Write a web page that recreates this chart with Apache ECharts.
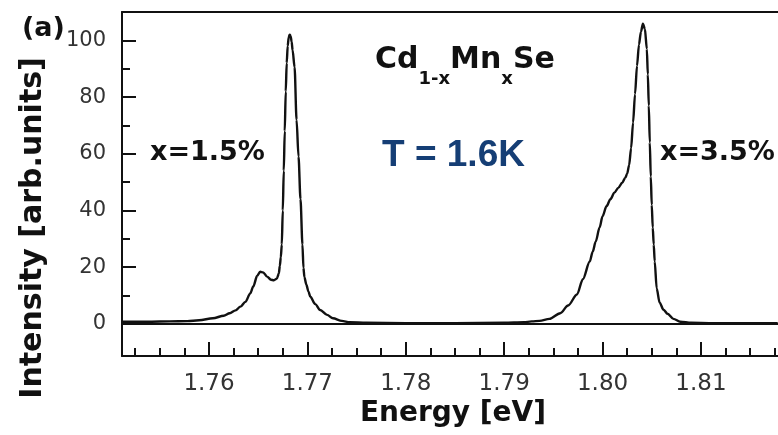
<!DOCTYPE html>
<html>
<head>
<meta charset="utf-8">
<script src="https://cdn.jsdelivr.net/npm/echarts@6/dist/echarts.min.js"></script>
<style>
  html, body { margin: 0; padding: 0; background: #ffffff; }
  #chart { width: 778px; height: 435px; }
</style>
</head>
<body>
<div id="chart"></div>
<script>
// Photoluminescence spectra of Cd(1-x)Mn(x)Se at T = 1.6 K
// Photon energy (eV) and intensity (arb. units) of the measured trace
const energy = [
  1.7512, 1.7540, 1.7560, 1.7578, 1.7590, 1.7604, 1.7615, 1.7621, 1.7627, 1.7632,
  1.7637, 1.7642, 1.7645, 1.7649, 1.7652, 1.7655, 1.7659, 1.7663, 1.7666, 1.7669,
  1.7671, 1.7672, 1.7673, 1.7674, 1.7675, 1.7676, 1.7677, 1.7678, 1.7679, 1.7680,
  1.7681, 1.7682, 1.7683, 1.7684, 1.7685, 1.7687, 1.7689, 1.7691, 1.7693, 1.7695,
  1.7696, 1.7697, 1.7699, 1.7701, 1.7703, 1.7708, 1.7713, 1.7720, 1.7726, 1.7735,
  1.7743, 1.7760, 1.7800, 1.7850, 1.7900, 1.7920, 1.7928, 1.7936, 1.7946, 1.7957,
  1.7965, 1.7974, 1.7980, 1.7987, 1.7990, 1.7993, 1.7997, 1.8000, 1.8004, 1.8008,
  1.8012, 1.8016, 1.8020, 1.8023, 1.8025, 1.8027, 1.8029, 1.8031, 1.8033, 1.8035,
  1.8037, 1.8039, 1.8041, 1.8043, 1.8045, 1.8046, 1.8047, 1.8048, 1.8049, 1.8050,
  1.8051, 1.8052, 1.8053, 1.8055, 1.8058, 1.8062, 1.8066, 1.8072, 1.8079, 1.8090,
  1.8110, 1.8150, 1.8178
];
const intensity = [
  0.8, 0.8, 0.9, 1.0, 1.3, 2.0, 2.9, 3.8, 4.8, 6.1,
  7.8, 10.8, 13.2, 17.0, 18.4, 18.2, 16.7, 15.6, 15.4, 16.0,
  17.8, 20.5, 23.5, 28.0, 40.0, 54.0, 68.0, 82.0, 92.0, 98.0,
  101.0, 102.0, 101.5, 99.5, 96.5, 90.5, 72.0, 59.0, 44.0, 28.0,
  19.8, 16.5, 13.8, 11.5, 9.6, 7.0, 4.9, 3.2, 2.0, 1.1,
  0.6, 0.4, 0.3, 0.3, 0.4, 0.6, 0.9, 1.1, 1.8, 3.8,
  6.5, 10.4, 15.8, 22.0, 25.5, 29.0, 34.0, 38.0, 41.5, 44.0,
  46.3, 48.0, 49.8, 51.5, 53.0, 56.0, 62.0, 71.0, 81.0, 91.0,
  98.5, 103.0, 105.9, 104.0, 97.0, 88.0, 77.0, 64.0, 52.0, 42.0,
  34.0, 28.0, 22.0, 12.5, 7.5, 5.0, 3.6, 1.8, 0.8, 0.4,
  0.3, 0.3, 0.3
];

// Axis ticks
const xMajorTicks = [1.76, 1.77, 1.78, 1.79, 1.80, 1.81];
const xMinorTicks = [
  1.7525, 1.7550, 1.7575, 1.7625, 1.7650, 1.7675, 1.7725, 1.7750, 1.7775,
  1.7825, 1.7850, 1.7875, 1.7925, 1.7950, 1.7975, 1.8025, 1.8050, 1.8075,
  1.8125, 1.8150, 1.8175
];
const yMajorTicks = [0, 20, 40, 60, 80, 100];
const yMinorTicks = [10, 30, 50, 70, 90];

// Text drawn on the plot
const panelLabel = '(a)';
const xTitle = 'Energy [eV]';
const yTitle = 'Intensity [arb.units]';
const sampleLabels = ['x=1.5%', 'x=3.5%'];
const tempLabel = 'T = 1.6K';

const points = energy.map((e, i) => [e, intensity[i]]);

const ink = '#111111';
const tickFont = 'DejaVu Sans';
const xMin = 1.75116, xMax = 1.81783;
const yMin = -11.3, yMax = 110;

const chart = echarts.init(document.getElementById('chart'), null, { renderer: 'canvas' });

chart.setOption({
  animation: false,
  backgroundColor: '#ffffff',
  grid: { left: 122, top: 12, right: 0, bottom: 79, show: false },
  xAxis: [
    {
      type: 'value', min: xMin, max: xMax, position: 'bottom',
      axisLine: { show: true, onZero: false, lineStyle: { color: ink, width: 2 } },
      axisTick: { show: true, inside: true, length: 14, customValues: xMajorTicks, lineStyle: { color: ink, width: 2 } },
      axisLabel: {
        show: true, customValues: xMajorTicks, margin: 17,
        formatter: v => v.toFixed(2),
        color: '#333333', fontFamily: tickFont, fontSize: 23
      },
      splitLine: { show: false }
    },
    {
      type: 'value', min: xMin, max: xMax, position: 'bottom',
      axisLine: { show: false, onZero: false },
      axisTick: { show: true, inside: true, length: 8, customValues: xMinorTicks, lineStyle: { color: ink, width: 2 } },
      axisLabel: { show: false, customValues: xMinorTicks },
      splitLine: { show: false }
    },
    {
      // top edge of the frame
      type: 'value', min: xMin, max: xMax, position: 'top',
      axisLine: { show: true, onZero: false, lineStyle: { color: ink, width: 2 } },
      axisTick: { show: false },
      axisLabel: { show: false },
      splitLine: { show: false }
    }
  ],
  yAxis: [
    {
      type: 'value', min: yMin, max: yMax, position: 'left',
      axisLine: { show: true, onZero: false, lineStyle: { color: ink, width: 2 } },
      axisTick: { show: true, inside: true, length: 14, customValues: yMajorTicks, lineStyle: { color: ink, width: 2 } },
      axisLabel: {
        show: true, customValues: yMajorTicks, margin: 16,
        color: '#333333', fontFamily: tickFont, fontSize: 21
      },
      splitLine: { show: false }
    },
    {
      type: 'value', min: yMin, max: yMax, position: 'left',
      axisLine: { show: false, onZero: false },
      axisTick: { show: true, inside: true, length: 8, customValues: yMinorTicks, lineStyle: { color: ink, width: 2 } },
      axisLabel: { show: false, customValues: yMinorTicks },
      splitLine: { show: false }
    }
  ],
  series: [
    {
      type: 'line',
      xAxisIndex: 0, yAxisIndex: 0,
      data: points,
      showSymbol: false,
      smooth: 0.3,
      smoothMonotone: 'x',
      lineStyle: { color: ink, width: 2.4 },
      markLine: {
        silent: true,
        symbol: ['none', 'none'],
        label: { show: false },
        lineStyle: { color: ink, width: 2, type: 'solid' },
        data: [{ yAxis: 0 }]
      }
    }
  ],
  graphic: [
    {
      type: 'text', x: 22, y: 29,
      style: { text: panelLabel, font: 'bold 27px "DejaVu Sans"', fill: ink, align: 'left', verticalAlign: 'middle' }
    },
    {
      type: 'text', x: 453, y: 414,
      style: { text: xTitle, font: 'bold 28px "DejaVu Sans"', fill: ink, align: 'center', verticalAlign: 'middle' }
    },
    {
      type: 'text', x: 33, y: 228, rotation: Math.PI / 2,
      style: { text: yTitle, font: 'bold 30px "DejaVu Sans"', fill: ink, align: 'center', verticalAlign: 'middle' }
    },
    {
      type: 'text', x: 150, y: 153,
      style: { text: sampleLabels[0], font: 'bold 27px "DejaVu Sans"', fill: ink, align: 'left', verticalAlign: 'middle' }
    },
    {
      type: 'text', x: 660, y: 153,
      style: { text: sampleLabels[1], font: 'bold 27px "DejaVu Sans"', fill: ink, align: 'left', verticalAlign: 'middle' }
    },
    {
      type: 'text', x: 382, y: 156,
      style: { text: tempLabel, font: 'bold 37px "Liberation Sans"', fill: '#153e75', align: 'left', verticalAlign: 'middle' }
    },
    {
      type: 'text', x: 375, y: 45,
      style: {
        text: '{b|Cd}{s|1-x}{b|Mn}{s|x}{b|Se}',
        fill: ink,
        rich: {
          b: { font: 'bold 30px "DejaVu Sans"', lineHeight: 32, verticalAlign: 'top', fill: ink },
          s: { font: 'bold 18px "DejaVu Sans"', lineHeight: 18, padding: [25, 0, 0, 0], verticalAlign: 'top', fill: ink }
        }
      }
    }
  ]
});
</script>
</body>
</html>
